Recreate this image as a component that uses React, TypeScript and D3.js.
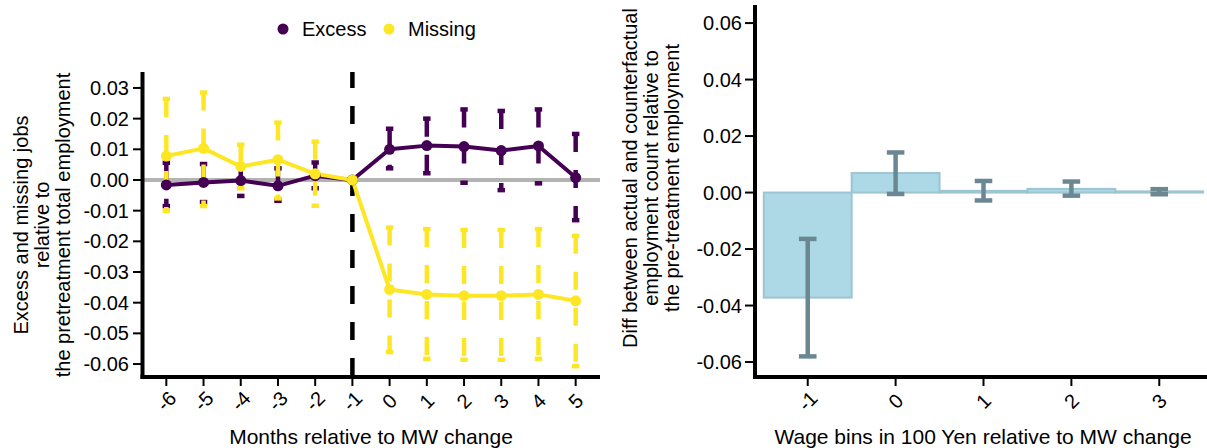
import React from "react";
import * as d3 from "d3";

// ---------- Left panel data ----------
const months = [-6, -5, -4, -3, -2, -1, 0, 1, 2, 3, 4, 5];
const excessEst = [-0.0016, -0.0008, -0.0002, -0.0019, 0.0014, 0, 0.01, 0.0112, 0.0109, 0.0096, 0.0111, 0.0008];
const excessLo = [-0.0085, -0.0072, -0.0052, -0.0068, -0.0027, null, 0.0038, 0.0022, -0.0009, -0.0033, -0.0011, -0.0131];
const excessHi = [0.0056, 0.0052, 0.0045, 0.0038, 0.0057, null, 0.0167, 0.02, 0.023, 0.0225, 0.023, 0.015];
const missingEst = [0.0078, 0.0103, 0.0044, 0.0066, 0.002, 0, -0.0357, -0.0373, -0.0377, -0.0377, -0.0373, -0.0394];
const missingLo = [-0.0101, -0.0085, -0.0027, -0.006, -0.0084, null, -0.0561, -0.0583, -0.0586, -0.0586, -0.0583, -0.0607];
const missingHi = [0.0264, 0.0285, 0.0115, 0.0187, 0.0125, null, -0.0155, -0.016, -0.0163, -0.0163, -0.016, -0.0182];
const leftYTicks = [0.03, 0.02, 0.01, 0.0, -0.01, -0.02, -0.03, -0.04, -0.05, -0.06];
const seriesNames = ["Excess", "Missing"];
const seriesColors = ["#440154", "#FDE725"];

// ---------- Right panel data ----------
const wageBins = ["-1", "0", "1", "2", "3"];
const diffEst = [-0.0372, 0.0069, 0.0006, 0.0013, 0.0004];
const diffLo = [-0.058, -0.0005, -0.0028, -0.0011, -0.0006];
const diffHi = [-0.0164, 0.0142, 0.0041, 0.0039, 0.0012];
const rightYTicks = [0.06, 0.04, 0.02, 0.0, -0.02, -0.04, -0.06];

const FONT = "'Liberation Sans', Arial, Helvetica, sans-serif";
const fmt = (v: number) => (Math.round(v * 100) / 100).toFixed(2).replace("−", "-");

export default function App() {
  // Left scales
  const xL = d3.scaleLinear().domain([-6.6, 5.6]).range([144, 598]);
  const yL = d3.scaleLinear().domain([-0.0639, 0.0352]).range([376, 72]);
  // Right scales
  const xR = d3.scaleLinear().domain([-0.6, 4.6]).range([755, 1212]);
  const yR = d3.scaleLinear().domain([-0.0653, 0.0664]).range([377, 5]);

  const series = [
    { est: excessEst, lo: excessLo, hi: excessHi },
    { est: missingEst, lo: missingLo, hi: missingHi },
  ];

  const line = d3
    .line<number>()
    .x((_, i) => xL(months[i]))
    .y((d) => yL(d));

  const capL = 0.1 * (xL(1) - xL(0));
  const capR = 0.1 * (xR(1) - xR(0));
  const bw = xR(1) - xR(0);

  return (
    <svg
      width={1207}
      height={448}
      style={{ position: "absolute", left: 0, top: 0, background: "#fff" }}
      fontFamily={FONT}
    >
      <rect width={1207} height={448} fill="#fff" />
      {/* ---------------- LEFT PANEL ---------------- */}
      {/* zero line */}
      <line x1={144} x2={600} y1={yL(0)} y2={yL(0)} stroke="#b3b3b3" strokeWidth={4} />
      {/* vertical dashed line */}
      <line
        x1={xL(-1)}
        x2={xL(-1)}
        y1={376}
        y2={72}
        stroke="#000"
        strokeWidth={4.5}
        strokeDasharray="18 18"
      />
      {/* error bars */}
      {series.map((s, si) => (
        <g key={"eb" + si} stroke={seriesColors[si]} strokeWidth={4.5} fill="none">
          {months.map((m, i) => {
            const lo = s.lo[i];
            const hi = s.hi[i];
            if (lo === null || hi === null) return null;
            const x = xL(m);
            return (
              <g key={i}>
                <line x1={x - capL} x2={x + capL} y1={yL(hi)} y2={yL(hi)} />
                <line x1={x} x2={x} y1={yL(hi)} y2={yL(lo)} strokeDasharray="18 18" />
                <line x1={x - capL} x2={x + capL} y1={yL(lo)} y2={yL(lo)} />
              </g>
            );
          })}
        </g>
      ))}
      {/* lines */}
      {series.map((s, si) => (
        <path key={"ln" + si} d={line(s.est) || ""} stroke={seriesColors[si]} strokeWidth={4} fill="none" strokeLinejoin="round" />
      ))}
      {/* points */}
      {series.map((s, si) => (
        <g key={"pt" + si} fill={seriesColors[si]}>
          {s.est.map((v, i) => (
            <circle key={i} cx={xL(months[i])} cy={yL(v)} r={5.5} />
          ))}
        </g>
      ))}
      {/* axes */}
      <line x1={142.5} x2={142.5} y1={72} y2={379} stroke="#000" strokeWidth={4} />
      <line x1={140.5} x2={600} y1={377} y2={377} stroke="#000" strokeWidth={4} />
      {leftYTicks.map((t) => (
        <g key={"lyt" + t}>
          <line x1={133} x2={141} y1={yL(t)} y2={yL(t)} stroke="#000" strokeWidth={2} />
          <text x={129} y={yL(t)} dy="0.35em" textAnchor="end" fontSize={20} fill="#000">
            {fmt(t)}
          </text>
        </g>
      ))}
      {months.map((m) => (
        <g key={"lxt" + m}>
          <line x1={xL(m)} x2={xL(m)} y1={379} y2={386} stroke="#000" strokeWidth={2} />
          <text
            x={xL(m)}
            y={401}
            dy="0.35em"
            textAnchor="middle"
            fontSize={20}
            fill="#000"
            transform={`rotate(-45 ${xL(m)} 401)`}
          >
            {String(m)}
          </text>
        </g>
      ))}
      <text x={371} y={444} textAnchor="middle" fontSize={21} fill="#000">
        Months relative to MW change
      </text>
      <g transform="translate(0,225) rotate(-90)" fontSize={20} fill="#000" textAnchor="middle">
        <text x={0} y={28}>Excess and missing jobs</text>
        <text x={0} y={49}>relative to</text>
        <text x={0} y={70}>the pretreatment total employment</text>
      </g>
      {/* legend */}
      <g fontSize={20} fill="#000">
        <circle cx={283} cy={29} r={5.5} fill={seriesColors[0]} />
        <text x={302} y={36}>{seriesNames[0]}</text>
        <circle cx={389} cy={29} r={5.5} fill={seriesColors[1]} />
        <text x={408} y={36}>{seriesNames[1]}</text>
      </g>

      {/* ---------------- RIGHT PANEL ---------------- */}
      {diffEst.map((v, i) => {
        const x0 = xR(i) - bw / 2;
        const yTop = yR(Math.max(0, v));
        const yBot = yR(Math.min(0, v));
        return (
          <rect
            key={"bar" + i}
            x={x0}
            y={yTop}
            width={bw}
            height={Math.max(0.5, yBot - yTop)}
            fill="#add8e6"
            stroke="#9cc4d1"
            strokeWidth={2}
          />
        );
      })}
      <g stroke="#6b8892" strokeWidth={4.5}>
        {diffEst.map((_, i) => {
          const x = xR(i);
          return (
            <g key={"reb" + i}>
              <line x1={x - capR} x2={x + capR} y1={yR(diffHi[i])} y2={yR(diffHi[i])} />
              <line x1={x} x2={x} y1={yR(diffHi[i])} y2={yR(diffLo[i])} />
              <line x1={x - capR} x2={x + capR} y1={yR(diffLo[i])} y2={yR(diffLo[i])} />
            </g>
          );
        })}
      </g>
      <line x1={755} x2={755} y1={5} y2={379} stroke="#000" strokeWidth={4} />
      <line x1={753} x2={1207} y1={377} y2={377} stroke="#000" strokeWidth={4} />
      {rightYTicks.map((t) => (
        <g key={"ryt" + t}>
          <line x1={745} x2={753} y1={yR(t)} y2={yR(t)} stroke="#000" strokeWidth={2} />
          <text x={742} y={yR(t)} dy="0.35em" textAnchor="end" fontSize={20} fill="#000">
            {fmt(t)}
          </text>
        </g>
      ))}
      {wageBins.map((b, i) => (
        <g key={"rxt" + b}>
          <line x1={xR(i)} x2={xR(i)} y1={379} y2={386} stroke="#000" strokeWidth={2} />
          <text
            x={xR(i)}
            y={401}
            dy="0.35em"
            textAnchor="middle"
            fontSize={20}
            fill="#000"
            transform={`rotate(-45 ${xR(i)} 401)`}
          >
            {b}
          </text>
        </g>
      ))}
      <text x={983} y={444} textAnchor="middle" fontSize={21} fill="#000">
        Wage bins in 100 Yen relative to MW change
      </text>
      <g transform="translate(0,178) rotate(-90)" fontSize={20} fill="#000" textAnchor="middle">
        <text x={0} y={637}>Diff between actual and counterfactual</text>
        <text x={0} y={658}>employment count relative to</text>
        <text x={0} y={679}>the pre-treatment employment</text>
      </g>
    </svg>
  );
}
